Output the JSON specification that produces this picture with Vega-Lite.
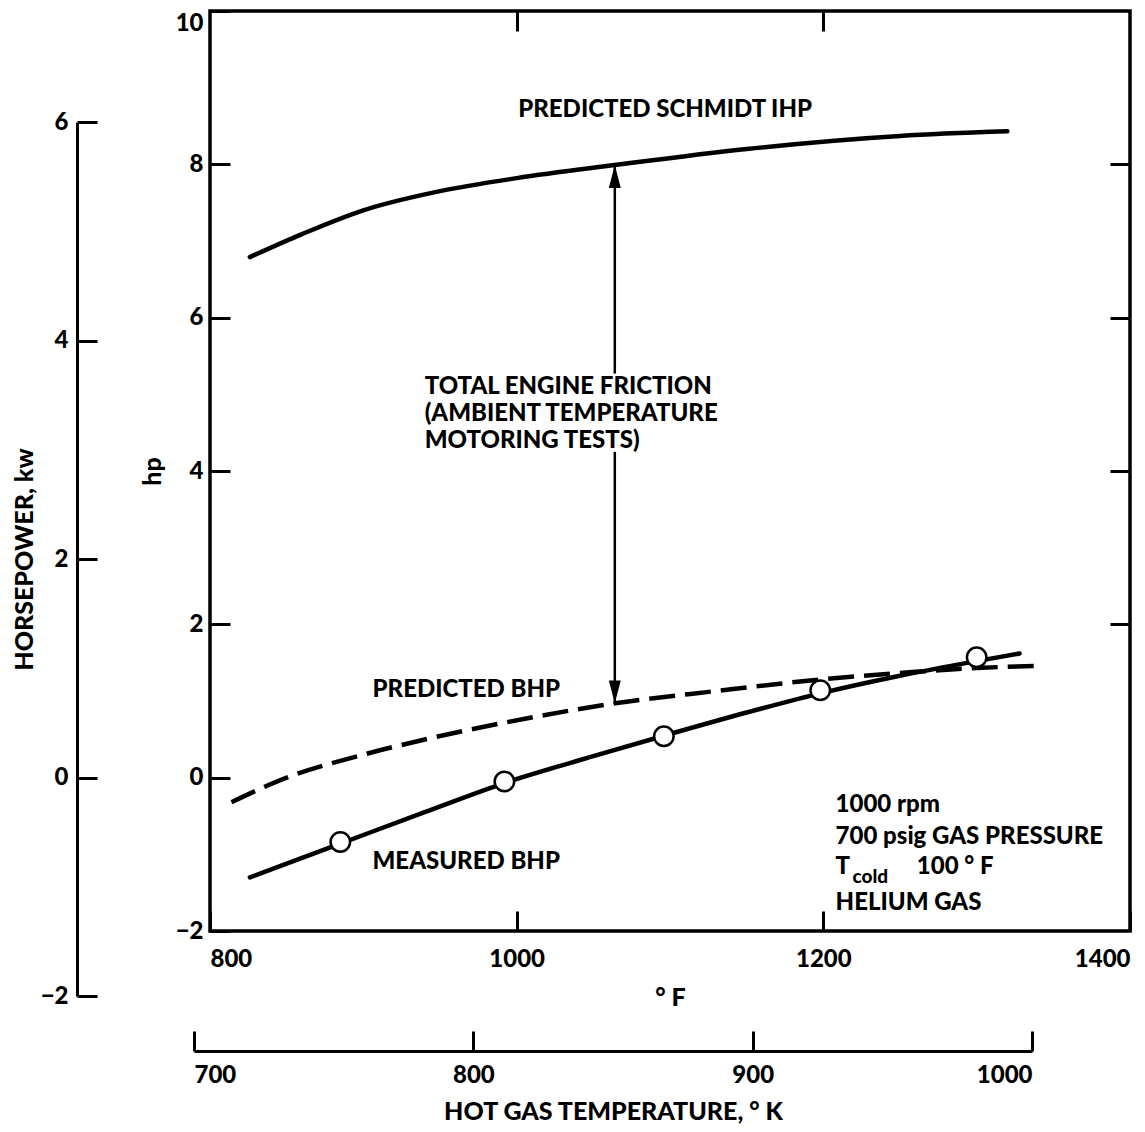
{
  "$schema": "https://vega.github.io/schema/vega-lite/v6.json",
  "autosize": "none",
  "padding": {"left": 210, "top": 11, "right": 15, "bottom": 201},
  "width": 920,
  "height": 920,
  "background": "white",
  "config": {
    "view": {"stroke": "black", "strokeWidth": 3.5},
    "font": "Lato",
    "axis": {
      "grid": false,
      "tickColor": "black",
      "tickWidth": 3,
      "domainColor": "black",
      "domainWidth": 3,
      "labelFont": "Lato",
      "labelFontSize": 24,
      "labelFontWeight": 900,
      "labelColor": "black",
      "titleFont": "Lato",
      "titleFontSize": 25,
      "titleFontWeight": 900,
      "titleColor": "black"
    },
    "text": {"font": "Lato", "fontWeight": 900, "fontSize": 24, "color": "black"}
  },
  "datasets": {
    "curves": [
      {"series": "Predicted Schmidt IHP", "F": 826, "hp": 6.79},
      {"series": "Predicted Schmidt IHP", "F": 860, "hp": 7.09},
      {"series": "Predicted Schmidt IHP", "F": 900, "hp": 7.40},
      {"series": "Predicted Schmidt IHP", "F": 950, "hp": 7.65},
      {"series": "Predicted Schmidt IHP", "F": 1000, "hp": 7.82},
      {"series": "Predicted Schmidt IHP", "F": 1064, "hp": 7.99},
      {"series": "Predicted Schmidt IHP", "F": 1150, "hp": 8.20},
      {"series": "Predicted Schmidt IHP", "F": 1250, "hp": 8.37},
      {"series": "Predicted Schmidt IHP", "F": 1320, "hp": 8.43},
      {"series": "Measured BHP", "F": 826, "hp": -1.30},
      {"series": "Measured BHP", "F": 885, "hp": -0.86},
      {"series": "Measured BHP", "F": 940, "hp": -0.45},
      {"series": "Measured BHP", "F": 992, "hp": -0.07},
      {"series": "Measured BHP", "F": 1050, "hp": 0.28},
      {"series": "Measured BHP", "F": 1100, "hp": 0.57},
      {"series": "Measured BHP", "F": 1150, "hp": 0.85},
      {"series": "Measured BHP", "F": 1200, "hp": 1.11},
      {"series": "Measured BHP", "F": 1250, "hp": 1.33},
      {"series": "Measured BHP", "F": 1300, "hp": 1.52},
      {"series": "Measured BHP", "F": 1328, "hp": 1.62},
      {"series": "Predicted BHP", "F": 814, "hp": -0.32},
      {"series": "Predicted BHP", "F": 850, "hp": 0.00},
      {"series": "Predicted BHP", "F": 900, "hp": 0.30},
      {"series": "Predicted BHP", "F": 945, "hp": 0.52},
      {"series": "Predicted BHP", "F": 1011, "hp": 0.79},
      {"series": "Predicted BHP", "F": 1064, "hp": 0.97},
      {"series": "Predicted BHP", "F": 1130, "hp": 1.13},
      {"series": "Predicted BHP", "F": 1198, "hp": 1.28},
      {"series": "Predicted BHP", "F": 1260, "hp": 1.38},
      {"series": "Predicted BHP", "F": 1300, "hp": 1.43},
      {"series": "Predicted BHP", "F": 1343, "hp": 1.46}
    ],
    "measured": [
      {"F": 885, "hp": -0.84},
      {"F": 992, "hp": -0.05},
      {"F": 1096, "hp": 0.54},
      {"F": 1198, "hp": 1.14},
      {"F": 1300, "hp": 1.57}
    ],
    "arrow": [
      {"F": 1064, "from": 7.99, "to": 5.27},
      {"F": 1064, "from": 4.25, "to": 0.97}
    ],
    "notes": [
      {"text": "PREDICTED SCHMIDT IHP", "F": 1001, "hp": 8.71},
      {"text": "TOTAL ENGINE FRICTION", "F": 940, "hp": 5.09},
      {"text": "(AMBIENT TEMPERATURE", "F": 940, "hp": 4.74},
      {"text": "MOTORING TESTS)", "F": 940, "hp": 4.39},
      {"text": "PREDICTED BHP", "F": 906, "hp": 1.14},
      {"text": "MEASURED BHP", "F": 906, "hp": -1.10},
      {"text": "1000 rpm", "F": 1208, "hp": -0.36},
      {"text": "700 psig GAS PRESSURE", "F": 1208, "hp": -0.77},
      {"text": "T", "F": 1208, "hp": -1.17},
      {"text": "100 ° F", "F": 1261, "hp": -1.17},
      {"text": "HELIUM GAS", "F": 1208, "hp": -1.63}
    ],
    "subscript": [
      {"text": "cold", "F": 1219, "hp": -1.30}
    ]
  },
  "layer": [
    {
      "layer": [
        {
          "data": {"name": "curves"},
          "transform": [{"filter": "datum.series !== 'Predicted BHP'"}],
          "mark": {"type": "line", "color": "black", "strokeWidth": 4.5, "interpolate": "monotone", "strokeCap": "round"},
          "encoding": {
            "x": {
              "field": "F", "type": "quantitative",
              "scale": {"domain": [800, 1400], "nice": false, "zero": false},
              "axis": {
                "orient": "bottom", "values": [800, 1000, 1200, 1400], "format": "d",
                "domain": false, "tickSize": -20, "labelPadding": 36, "labelFlush": true,
                "title": "° F", "titlePadding": 14
              }
            },
            "y": {
              "field": "hp", "type": "quantitative",
              "scale": {"domain": [-2, 10], "nice": false, "zero": false},
              "axis": {
                "orient": "left", "values": [-2, 0, 2, 4, 6, 8, 10], "format": "d",
                "domain": false, "tickSize": -20, "labelPadding": 27,
                "labelBaseline": {"condition": {"test": "datum.value === 10", "value": "top"}, "value": "middle"},
                "title": "hp", "titlePadding": 10
              }
            },
            "detail": {"field": "series"}
          }
        },
        {
          "data": {"name": "curves"},
          "transform": [{"filter": "datum.series === 'Predicted BHP'"}],
          "mark": {"type": "line", "color": "black", "strokeWidth": 4.5, "interpolate": "monotone", "strokeDash": [26, 10]},
          "encoding": {
            "x": {"field": "F", "type": "quantitative"},
            "y": {"field": "hp", "type": "quantitative"}
          }
        },
        {
          "mark": {"type": "rule", "color": "black", "strokeWidth": 2.5},
          "encoding": {"y": {"datum": 0}}
        },
        {
          "data": {"name": "arrow"},
          "mark": {"type": "rule", "color": "black", "strokeWidth": 2.5},
          "encoding": {
            "x": {"field": "F", "type": "quantitative"},
            "y": {"field": "from", "type": "quantitative"},
            "y2": {"field": "to"}
          }
        },
        {
          "data": {"values": [{"F": 1064, "hp": 7.99}]},
          "mark": {"type": "point", "shape": "M0,0L1,3.8L-1,3.8Z", "size": 144, "filled": true, "color": "black", "opacity": 1},
          "encoding": {
            "x": {"field": "F", "type": "quantitative"},
            "y": {"field": "hp", "type": "quantitative"}
          }
        },
        {
          "data": {"values": [{"F": 1064, "hp": 0.97}]},
          "mark": {"type": "point", "shape": "M0,0L1,-3.8L-1,-3.8Z", "size": 144, "filled": true, "color": "black", "opacity": 1},
          "encoding": {
            "x": {"field": "F", "type": "quantitative"},
            "y": {"field": "hp", "type": "quantitative"}
          }
        },
        {
          "data": {"name": "measured"},
          "mark": {"type": "point", "shape": "circle", "size": 380, "filled": true, "fill": "white", "stroke": "black", "strokeWidth": 2.5, "opacity": 1},
          "encoding": {
            "x": {"field": "F", "type": "quantitative"},
            "y": {"field": "hp", "type": "quantitative"}
          }
        },
        {
          "data": {"name": "notes"},
          "mark": {"type": "text", "align": "left", "baseline": "middle"},
          "encoding": {
            "x": {"field": "F", "type": "quantitative"},
            "y": {"field": "hp", "type": "quantitative"},
            "text": {"field": "text"}
          }
        },
        {
          "data": {"name": "subscript"},
          "mark": {"type": "text", "align": "left", "baseline": "middle", "fontSize": 19},
          "encoding": {
            "x": {"field": "F", "type": "quantitative"},
            "y": {"field": "hp", "type": "quantitative"},
            "text": {"field": "text"}
          }
        }
      ]
    },
    {
      "data": {"values": [{"kW": -2}, {"kW": 6}]},
      "mark": {"type": "point", "opacity": 0},
      "encoding": {
        "y": {
          "field": "kW", "type": "quantitative",
          "scale": {"domain": [-2, 6], "range": [985, 111], "nice": false, "zero": false},
          "axis": {
            "orient": "left", "offset": 133, "values": [-2, 0, 2, 4, 6], "format": "d",
            "domain": true, "tickSize": -20, "labelPadding": 29,
            "title": "HORSEPOWER, kw", "titlePadding": 3
          }
        }
      }
    },
    {
      "data": {"values": [{"K": 700}, {"K": 1000}]},
      "mark": {"type": "point", "opacity": 0},
      "encoding": {
        "x": {
          "field": "K", "type": "quantitative",
          "scale": {"domain": [700, 1000], "range": [-16, 822], "nice": false, "zero": false},
          "axis": {
            "orient": "bottom", "offset": 120, "values": [700, 800, 900, 1000], "format": "d",
            "domain": true, "tickSize": -20, "labelPadding": 32, "labelFlush": true,
            "title": "HOT GAS TEMPERATURE, ° K", "titlePadding": 12
          }
        }
      }
    },
    {
      "data": {"values": [{"F": 800}, {"F": 1400}]},
      "mark": {"type": "point", "opacity": 0},
      "encoding": {
        "x": {
          "field": "F", "type": "quantitative",
          "scale": {"domain": [800, 1400], "nice": false, "zero": false},
          "axis": {"orient": "top", "values": [1000, 1200], "labels": false, "domain": false, "tickSize": -20, "title": null}
        }
      }
    },
    {
      "data": {"values": [{"hp": -2}, {"hp": 10}]},
      "mark": {"type": "point", "opacity": 0},
      "encoding": {
        "y": {
          "field": "hp", "type": "quantitative",
          "scale": {"domain": [-2, 10], "nice": false, "zero": false},
          "axis": {"orient": "right", "values": [2, 4, 6, 8], "labels": false, "domain": false, "tickSize": -20, "title": null}
        }
      }
    }
  ],
  "resolve": {"scale": {"x": "independent", "y": "independent"}}
}
